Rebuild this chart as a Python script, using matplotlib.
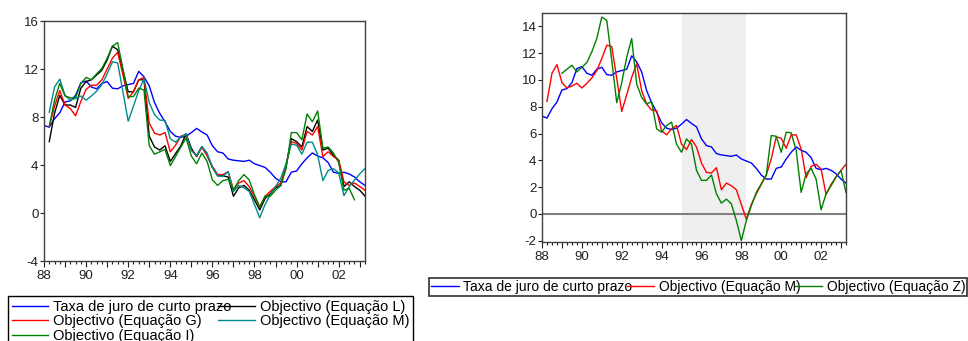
import numpy as np
import matplotlib
matplotlib.use('Agg')
import matplotlib.pyplot as plt
from matplotlib.ticker import FixedLocator, FuncFormatter

plt.rcParams['font.family'] = ['Liberation Sans', 'DejaVu Sans']
plt.rcParams['axes.unicode_minus'] = False

# quarterly data, 1988Q1 .. 2003Q2
start_year = 1988
n_quarters = 62
nan = np.nan

rate = [7.3, 7.15, 7.85, 8.35, 9.25, 9.35, 9.8, 10.85, 11.0, 10.5,
        10.35, 10.8, 10.95, 10.4, 10.35, 10.6, 10.7, 10.8, 11.8, 11.35,
        10.6, 9.2, 8.3, 7.6, 6.8, 6.4, 6.3, 6.4, 6.7, 7.05,
        6.75, 6.5, 5.6, 5.1, 5.0, 4.5, 4.4, 4.35, 4.3, 4.4,
        4.1, 3.95, 3.8, 3.4, 2.9, 2.6, 2.6, 3.4, 3.5, 4.1,
        4.6, 5.0, 4.75, 4.6, 4.2, 3.4, 3.3, 3.4, 3.25, 3.0,
        2.6, 2.3]

obj_l = [nan, 5.95, 8.3, 9.8, 9.0, 9.0, 8.8, 10.4, 10.95, 11.1,
         11.5, 11.9, 12.75, 13.9, 13.6, 11.9, 10.1, 10.1, 11.1, 11.1,
         6.4, 5.5, 5.25, 5.6, 4.3, 4.95, 5.6, 6.6, 5.4, 4.7,
         5.5, 4.8, 3.8, 3.1, 3.1, 3.0, 1.4, 2.1, 2.3, 1.9,
         1.1, 0.25, 1.2, 1.6, 2.1, 2.3, 3.9, 6.2, 5.95, 5.5,
         7.2, 6.8, 7.75, 5.25, 5.4, 4.8, 4.4, 2.2, 2.6, 2.2,
         1.9, 1.4]

obj_g = [nan, 7.2, 8.9, 10.2, 9.0, 8.7, 8.1, 9.3, 10.3, 10.65,
         10.65, 11.1, 12.0, 12.9, 13.4, 11.5, 9.55, 10.1, 11.1, 11.3,
         7.5, 6.65, 6.5, 6.7, 5.1, 5.65, 6.4, 6.5, 5.25, 4.75,
         5.5, 4.8, 3.9, 3.2, 3.2, 3.45, 1.95, 2.5, 2.7, 2.2,
         1.4, 0.5, 1.4, 1.8, 2.2, 2.5, 4.0, 5.95, 5.8, 5.25,
         6.8, 6.5, 7.2, 4.7, 5.1, 4.7, 4.4, 2.6, 2.3, 2.5,
         2.2, 1.9]

obj_m = [nan, 8.4, 10.5, 11.15, 9.8, 9.4, 9.55, 9.75, 9.4, 9.75,
         10.15, 10.7, 11.6, 12.6, 12.5, 10.1, 7.65, 8.9, 10.2, 11.2,
         9.2, 8.2, 7.75, 7.7, 6.2, 5.9, 6.35, 6.6, 5.2, 4.8,
         5.55, 5.0, 3.8, 3.1, 3.05, 3.45, 1.8, 2.3, 2.1, 1.8,
         0.7, -0.4, 0.7, 1.5, 2.2, 2.9, 4.1, 5.75, 5.65, 4.9,
         5.9, 5.9, 4.85, 2.7, 3.55, 3.7, 3.35, 1.45, 2.2, 2.75,
         3.25, 3.7]

obj_i = [nan, 7.2, 9.4, 10.8, 9.75, 9.6, 9.6, 10.8, 11.3, 11.1,
         11.6, 12.05, 12.9, 13.9, 14.2, 12.0, 9.7, 9.7, 10.4, 10.25,
         5.6, 4.9, 5.1, 5.3, 3.95, 4.7, 5.5, 6.25, 4.75, 4.1,
         5.0, 4.3, 2.75, 2.3, 2.7, 2.8, 1.9, 2.7, 3.2, 2.75,
         1.5, 0.5, 1.4, 1.4, 1.9, 2.3, 3.7, 6.7, 6.7, 6.1,
         8.25, 7.6, 8.5, 5.4, 5.5, 5.0, 4.2, 1.9, 2.05, 1.1,
         nan, nan]

obj_z = [nan, nan, nan, nan, 10.5, 10.8, 11.1, 10.6, 10.95, 11.3,
         12.1, 13.1, 14.7, 14.45, 11.45, 8.3, 9.8, 11.7, 13.1, 9.7,
         8.7, 8.2, 8.4, 6.35, 6.1, 6.6, 6.85, 5.2, 4.6, 5.6,
         5.2, 3.25, 2.5, 2.5, 2.9, 1.5, 0.8, 1.1, 0.75, -0.5,
         -2.0, -0.5, 0.6, 1.6, 2.25, 2.9, 5.85, 5.8, 4.6, 6.1,
         6.05, 4.75, 1.6, 3.0, 3.4, 2.6, 0.3, 1.5, 2.1, 2.75,
         3.25, 1.6]

shade_span = (1995.0, 1998.25)

lab_rate = 'Taxa de juro de curto prazo'
t = start_year + np.arange(n_quarters) / 4.0

BLUE, RED, GREEN, TEAL = '#0000ff', '#ff0000', '#008000', '#008b8b'
FRAME = '#404040'


def style_axes(ax, yticks, ylim):
    ax.set_xlim(t[0], t[-1])
    ax.set_ylim(*ylim)
    years = np.arange(start_year, int(t[-1]) + 1)
    ax.xaxis.set_major_locator(FixedLocator(years))
    ax.xaxis.set_minor_locator(FixedLocator(np.arange(t[0], t[-1] + 0.01, 0.25)))
    ax.xaxis.set_major_formatter(FuncFormatter(
        lambda v, p: '%02d' % (int(round(v)) % 100) if int(round(v)) % 2 == 0 else ''))
    ax.set_yticks(yticks)
    ax.tick_params(axis='x', which='major', length=4, width=0.8, pad=2.5,
                   labelsize=9.5, direction='out', colors='#202020')
    ax.tick_params(axis='x', which='minor', length=2, width=0.8, direction='out',
                   colors='#202020')
    ax.tick_params(axis='y', length=3, width=0.8, pad=1, labelsize=9.5,
                   direction='out', colors='#202020')
    for s in ax.spines.values():
        s.set_color(FRAME)
        s.set_linewidth(1.0)


fig = plt.figure(figsize=(9.68, 3.41), dpi=100)

# left panel
ax1 = fig.add_axes([44 / 968, 80 / 341, 321 / 968, 240 / 341])
h_rate, = ax1.plot(t, rate, color=BLUE, lw=1)
h_l, = ax1.plot(t, obj_l, color='black', lw=1)
h_g, = ax1.plot(t, obj_g, color=RED, lw=1)
h_m, = ax1.plot(t, obj_m, color=TEAL, lw=1)
h_i, = ax1.plot(t, obj_i, color=GREEN, lw=1)
style_axes(ax1, [-4, 0, 4, 8, 12, 16], (-4, 16))

# bottom row of this legend runs off the figure, as in the original
fig.legend([h_rate, h_g, h_i, h_l, h_m],
           [lab_rate, 'Objectivo (Equação G)', 'Objectivo (Equação I)',
            'Objectivo (Equação L)', 'Objectivo (Equação M)'],
           loc='upper left', bbox_to_anchor=(8 / 968, 1 - 296 / 341),
           borderaxespad=0, ncol=2, fontsize=10.5, handlelength=2.5,
           handletextpad=0.35, columnspacing=-0.9, labelspacing=0.05,
           borderpad=0.25, frameon=True, fancybox=False,
           edgecolor='black', framealpha=1)

# right panel
ax2 = fig.add_axes([542 / 968, 99 / 341, 304 / 968, 229 / 341])
ax2.axvspan(*shade_span, ymin=0.008, ymax=1, color='#efefef', lw=0, zorder=0)
ax2.axhline(0, color='#808080', lw=1.5, zorder=1)
r_rate, = ax2.plot(t, rate, color=BLUE, lw=1)
r_m, = ax2.plot(t, obj_m, color=RED, lw=1)
r_z, = ax2.plot(t, obj_z, color=GREEN, lw=1)
style_axes(ax2, [-2, 0, 2, 4, 6, 8, 10, 12, 14], (-2.1, 15))

leg2 = fig.legend([r_rate, r_m, r_z],
                  [lab_rate, 'Objectivo (Equação M)', 'Objectivo (Equação Z)'],
                  loc='upper left', bbox_to_anchor=(429 / 968, 1 - 278 / 341),
                  borderaxespad=0, ncol=3, fontsize=10, handlelength=2.0,
                  handletextpad=0.3, columnspacing=-0.4, borderpad=0.15,
                  frameon=True, fancybox=False, edgecolor='#303030', framealpha=1)
leg2.get_frame().set_linewidth(1.2)

fig.savefig('out.png', dpi=100)
